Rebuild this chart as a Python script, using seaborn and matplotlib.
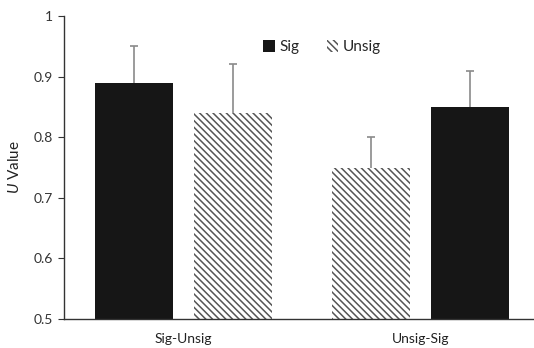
import matplotlib
matplotlib.use("Agg")
import matplotlib.pyplot as plt
import matplotlib.ticker as mticker
from matplotlib.patches import Patch
import seaborn as sns
import pandas as pd

# Sequence conditions and the measured U values (mean and upper error)
conditions = ["Sig-Unsig", "Unsig-Sig"]
slot_types = [["Sig", "Unsig"], ["Unsig", "Sig"]]
u_means = [[0.89, 0.84], [0.75, 0.85]]
u_errors = [[0.06, 0.08], [0.05, 0.06]]
y_ticks = [0.5, 0.6, 0.7, 0.8, 0.9, 1.0]

rows = []
for cond, types, means, errs in zip(conditions, slot_types, u_means, u_errors):
    for slot, (t, m, e) in enumerate(zip(types, means, errs)):
        rows.append({"condition": cond, "slot": slot, "type": t, "U": m, "err": e})
df = pd.DataFrame(rows)

sns.set_theme(style="white")
plt.rcParams["font.family"] = ["Lato", "DejaVu Sans"]
plt.rcParams["mathtext.fontset"] = "custom"
plt.rcParams["mathtext.it"] = "Lato:italic"
plt.rcParams["mathtext.rm"] = "Lato"
plt.rcParams["hatch.linewidth"] = 1.1

HATCH_GRAY = "#555555"
SIG_BLACK = "#161616"
HATCH = "\\" * 5

fig = plt.figure(figsize=(5.34, 3.48), dpi=100)
ax = fig.add_axes([64 / 534, 29 / 348, 469 / 534, 303 / 348])

sns.barplot(data=df, x="condition", y="U", hue="slot", order=conditions,
            hue_order=[0, 1], width=0.836, gap=0.213, dodge=True,
            legend=False, ax=ax, errorbar=None, saturation=1)

# Style each bar by its type and add the upper-only error bars
for (_, row), bar in zip(df.sort_values(["slot", "condition"]).iterrows(), ax.patches):
    if row["type"] == "Sig":
        bar.set_facecolor(SIG_BLACK)
        bar.set_edgecolor(SIG_BLACK)
        bar.set_hatch(None)
    else:
        bar.set_facecolor("white")
        bar.set_edgecolor(HATCH_GRAY)
        bar.set_hatch(HATCH)
    bar.set_linewidth(0)
    bar.set_zorder(2)
    xc = bar.get_x() + bar.get_width() / 2
    ax.errorbar(xc, bar.get_height(), yerr=[[0.01], [row["err"]]], fmt="none",
                ecolor="#8a8a8a", elinewidth=1.2, capsize=3, capthick=1.2, zorder=1)

ax.set_ylim(0.5, 1.0)
ax.set_xlim(-0.504, 1.475)
ax.set_yticks(y_ticks)
ax.yaxis.set_major_formatter(mticker.FuncFormatter(lambda v, p: "1" if v == 1 else f"{v:.1f}"))
ax.set_xlabel("")
ax.set_ylabel(r"$\it{U}$ Value", fontsize=11, color="#222222", labelpad=8)

for side in ["top", "right"]:
    ax.spines[side].set_visible(False)
for side in ["left", "bottom"]:
    ax.spines[side].set_color("#333333")
    ax.spines[side].set_linewidth(1.0)
    ax.spines[side].set_zorder(3)

ax.tick_params(axis="y", left=True, length=4, width=0.8, color="#333333",
               labelsize=10, labelcolor="#333333", pad=4)
ax.tick_params(axis="x", bottom=False, labelsize=10, labelcolor="#222222", pad=4)

handles = [Patch(facecolor=SIG_BLACK, edgecolor=SIG_BLACK, linewidth=0, label="Sig"),
           Patch(facecolor="white", edgecolor=HATCH_GRAY, linewidth=0, hatch=HATCH,
                 label="Unsig")]
ax.legend(handles=handles, loc="upper center", bbox_to_anchor=(0.55, 0.965), ncol=2,
          frameon=False, fontsize=11, handlelength=0.75, handleheight=0.75,
          handletextpad=0.3, columnspacing=1.8)

fig.savefig("out.png", dpi=100)
